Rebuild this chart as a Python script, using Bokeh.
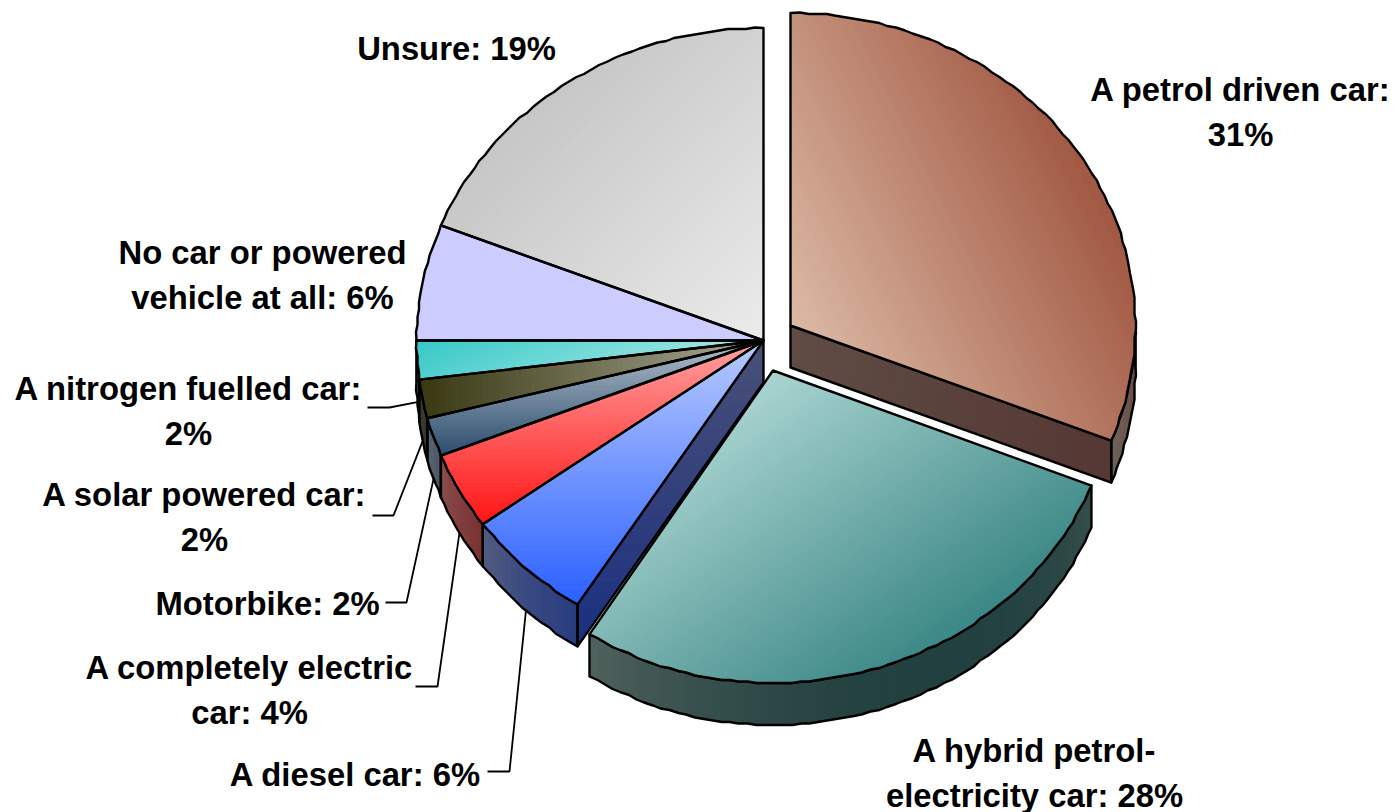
import math
from bokeh.plotting import figure
from bokeh.models import Range1d
from bokeh.core.properties import value
from bokeh.embed import file_html
from bokeh.resources import INLINE

# ---- data
categories = ["A petrol driven car", "A hybrid petrol-electricity car", "A diesel car",
              "A completely electric car", "Motorbike", "A solar powered car",
              "A nitrogen fuelled car", "No car or powered vehicle at all", "Unsure"]
values = [31, 28, 6, 4, 2, 2, 2, 6, 19]

label_lines = [["A petrol driven car:", "31%"], ["A hybrid petrol-", "electricity car: 28%"],
               ["A diesel car: 6%"], ["A completely electric", "car: 4%"], ["Motorbike: 2%"],
               ["A solar powered car:", "2%"], ["A nitrogen fuelled car:", "2%"],
               ["No car or powered", "vehicle at all: 6%"], ["Unsure: 19%"]]

# ---- layout and style (page pixels)
W, H = 1395, 812
CX, CY, RY, DEPTH = 763, 340, 312.5, 42
radii_x = [345, 342.5, 347, 347, 347, 347, 347, 347, 347]
offsets = [(27, -15), (9.5, 30), (0, 0), (0, 0), (0, 0), (0, 0), (0, 0), (0, 0), (0, 0)]
label_pos = [(1240, 89), (1034, 750), (355, 774), (249, 667), (267, 603),
             (204, 494), (188, 388), (262, 252), (456, 48)]
LINE_H = 44.5
GRID = 1.5   # outline wobble of the reference's coarse polygons
leader_elbow = {2: [(487, 771), (509, 771)], 3: [(415, 686), (437, 686)], 4: [(385, 602), (406, 602)],
                5: [(372, 515), (393, 515)], 6: [(367, 407), (389, 407)]}

# top face gradient: (direction, start colour, end colour)
top_style = [((1, -0.5), "#dcbaa6", "#a15842"), ((0.7, 1), "#aad4d1", "#3a8785"),
             ((0, 1), "#b9cbff", "#2b60ff"), ((0, 1), "#ffa3a3", "#ff1414"),
             ((0, 1), "#b4c0cc", "#2c4d6e"), ((1, 0), "#393812", "#aaaa98"),
             ((0.5, 1), "#36c8c8", "#a4e8e4"), ((1, 0), "#ccccff", "#ccccff"),
             ((1, 1), "#c6c6c6", "#ebebeb")]
rim_style = [((0, 1), "#6b3f34", "#6e675f"), ((0.5, 1), "#55655f", "#1c3c3c"),
             ((0, 1), "#5d6480", "#1c3380"), ((0, 1), "#8f5555", "#752828"),
             ((0, 1), "#666e7c", "#3e4958"), ((0, 1), "#44443a", "#2e2e20"),
             ((0, 1), "#666666", "#444444"), None, None]
cut_style = {0: ((1, 0.2), "#5f4c45", "#553733"), 2: ((0, 1), "#4a5078", "#1a2f80")}


def hex2rgb(c):
    return tuple(int(c[i:i + 2], 16) for i in (1, 3, 5))


def mix(c0, c1, t):
    a, b = hex2rgb(c0), hex2rgb(c1)
    t = max(0, min(1, t))
    return "#%02x%02x%02x" % tuple(round(a[i] + (b[i] - a[i]) * t) for i in range(3))


def pt(deg, i, dz=0):
    r = math.radians(deg)
    ox, oy = offsets[i]
    return (CX + ox + radii_x[i] * math.sin(r), CY + oy - RY * math.cos(r) + dz)


def snap(q):
    return (round(q[0] / GRID) * GRID, round(q[1] / GRID) * GRID)


def arc(a0, a1, i, dz=0):
    n = max(2, int(abs(a1 - a0) / 1.5) + 1)
    pts = [pt(a0 + (a1 - a0) * k / n, i) for k in range(n + 1)]
    return [(q[0], q[1] + dz) for q in (pts[:1] + [snap(s) for s in pts[1:-1]] + pts[-1:])]


def clip(poly, d, lim, keep_above):
    out = []
    for i, p in enumerate(poly):
        q = poly[(i + 1) % len(poly)]
        sp = p[0] * d[0] + p[1] * d[1] - lim
        sq = q[0] * d[0] + q[1] * d[1] - lim
        if not keep_above:
            sp, sq = -sp, -sq
        if sp >= 0:
            out.append(p)
        if sp * sq < 0:
            t = sp / (sp - sq)
            out.append((p[0] + (q[0] - p[0]) * t, p[1] + (q[1] - p[1]) * t))
    return out


class Layer:
    def __init__(self):
        self.xs, self.ys, self.c = [], [], []

    def add(self, poly, col):
        self.xs.append([p[0] for p in poly])
        self.ys.append([p[1] for p in poly])
        self.c.append(col)


def gradient_fill(layer, poly, style, bands=64):
    d, c0, c1 = style
    proj = [p[0] * d[0] + p[1] * d[1] for p in poly]
    lo, hi = min(proj), max(proj)
    if c0 == c1:
        layer.add(poly, c0)
        return
    step = (hi - lo) / bands
    for b in range(bands):
        part = clip(clip(poly, d, lo + b * step, True), d, lo + (b + 1) * step, False)
        if len(part) >= 3:
            layer.add(part, mix(c0, c1, (b + 0.5) / bands))


def rim_fill(layer, a0, a1, i, style):
    d, c0, c1 = style
    top, bot = arc(a0, a1, i), arc(a0, a1, i, DEPTH)
    full = top + bot
    proj = [p[0] * d[0] + p[1] * d[1] for p in full]
    lo, hi = min(proj), max(proj)
    for k in range(len(top) - 1):
        q = [top[k], top[k + 1], bot[k + 1], bot[k]]
        m = sum(p[0] * d[0] + p[1] * d[1] for p in q) / 4
        layer.add(q, mix(c0, c1, (m - lo) / (hi - lo or 1)))


# angles from the values
total = sum(values)
edges = [0]
for v in values:
    edges.append(edges[-1] + v)
ang = [e * 360 / total for e in edges]

p = figure(width=W, height=H, x_range=Range1d(0, W), y_range=Range1d(H, 0),
           x_axis_type=None, y_axis_type=None, toolbar_location=None, output_backend="svg",
           min_border=0, outline_line_color=None, background_fill_color="white")


def draw(layer):
    p.patches(layer.xs, layer.ys, fill_color=layer.c, line_color=layer.c, line_width=1)


def outline(polys):
    p.patches([[q[0] for q in P] for P in polys], [[q[1] for q in P] for P in polys],
              fill_alpha=0, line_color="black", line_width=2.4, line_join="round")


def draw_slices(idx):
    """Sides first, then the top faces, for the slices in idx."""
    lines = []
    for i in idx:
        a0, a1 = ang[i], ang[i + 1]
        ox, oy = offsets[i]
        v0, v1 = max(a0, 90), min(a1, 270)
        if i in cut_style:
            cut_a = a1 if i == 0 else a0
            apex = (CX + ox, CY + oy)
            e = pt(cut_a, i)
            poly = [apex, e, (e[0], e[1] + DEPTH), (apex[0], apex[1] + DEPTH)]
            L = Layer()
            gradient_fill(L, poly, cut_style[i], bands=24)
            draw(L)
            lines.append(poly)
        if rim_style[i] and v1 > v0:
            L = Layer()
            rim_fill(L, v0, v1, i, rim_style[i])
            draw(L)
            lines.append(arc(v0, v1, i) + arc(v1, v0, i, DEPTH))
    if lines:
        outline(lines)
    tops = []
    for i in idx:
        a0, a1 = ang[i], ang[i + 1]
        poly = [(CX + offsets[i][0], CY + offsets[i][1])] + arc(a0, a1, i)
        L = Layer()
        gradient_fill(L, poly, top_style[i])
        draw(L)
        tops.append(poly)
    outline(tops)


# leader lines run from the middle of each slice's rim
lx, ly = [], []
for i, elbow in leader_elbow.items():
    mid = (ang[i] + ang[i + 1]) / 2
    end = pt(mid, i, DEPTH)
    lx.append([q[0] for q in elbow] + [end[0]])
    ly.append([q[1] for q in elbow] + [end[1]])
p.multi_line(lx, ly, line_color="black", line_width=1.8)

draw_slices([0])
draw_slices([2, 3, 4, 5, 6, 7, 8])
draw_slices([1])

tx, ty, tt = [], [], []
for lines_, (x, y) in zip(label_lines, label_pos):
    for k, s in enumerate(lines_):
        tx.append(x)
        ty.append(y + k * LINE_H)
        tt.append(s)
p.text(tx, ty, text=tt, text_font=value("Liberation Sans"), text_font_style="bold",
       text_font_size="32.8px", text_align="center", text_baseline="alphabetic", text_color="black")

open("out.html", "w").write(file_html(p, INLINE))
